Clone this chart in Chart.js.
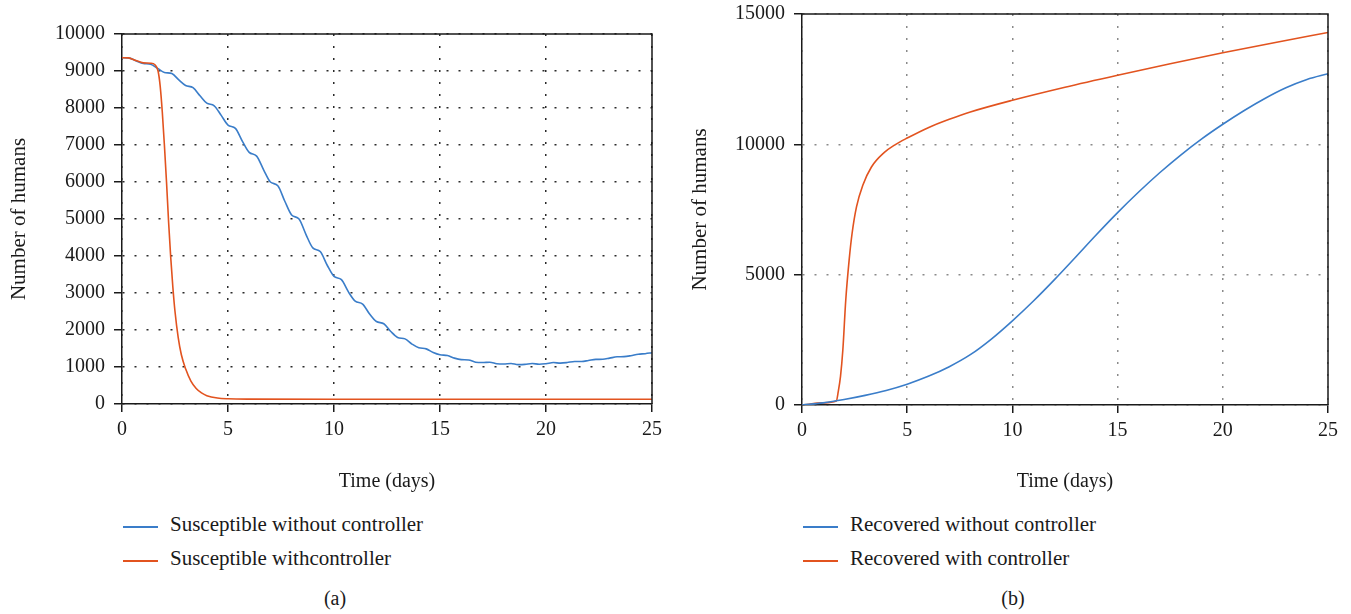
<!DOCTYPE html>
<html>
<head>
<meta charset="utf-8">
<title>Susceptible and recovered humans</title>
<script src="https://cdn.jsdelivr.net/npm/chart.js@4.4.1/dist/chart.umd.min.js"></script>
<style>
  html, body { margin: 0; padding: 0; background: #fff; }
  body { width: 1351px; height: 614px; position: relative; overflow: hidden;
         font-family: "Liberation Serif", "Times New Roman", serif; color: #1a1a1a; }
  .panel { position: absolute; top: 0; height: 500px; }
  .legend { position: absolute; font-size: 21px; }
  .legend-row { height: 34px; line-height: 24px; white-space: nowrap; }
  .legend-line { display: inline-block; width: 35px; height: 1.5px; vertical-align: middle;
                 margin-right: 12px; position: relative; top: 1px; }
  .caption { position: absolute; top: 586px; width: 200px; text-align: center;
             font-size: 20px; line-height: 24px; }
</style>
</head>
<body>
  <div class="panel" style="left:0;width:680px"><canvas id="susChart"></canvas></div>
  <div class="panel" style="left:680px;width:671px"><canvas id="recChart"></canvas></div>
  <div class="legend" id="susLegend" style="left:123px;top:512px"></div>
  <div class="legend" id="recLegend" style="left:803px;top:512px"></div>
  <div class="caption" style="left:235px">(a)</div>
  <div class="caption" style="left:913px">(b)</div>

<script>
// (a) susceptible humans
const susTime = [0, 0.3, 0.65, 1, 1.35, 1.68, 2, 2.35, 2.68, 3, 3.35, 3.68, 4, 4.35, 4.68,
  5, 5.35, 5.68, 6, 6.35, 6.68, 7, 7.35, 7.68, 8, 8.35, 8.68, 9, 9.35, 9.68,
  10, 10.35, 10.68, 11, 11.35, 11.68, 12, 12.35, 12.68, 13, 13.35, 13.68, 14, 14.35, 14.68,
  15, 15.35, 15.68, 16, 16.35, 16.68, 17, 17.35, 17.68, 18, 18.35, 18.68, 19, 19.35, 19.68,
  20, 20.35, 20.68, 21, 21.35, 21.68, 22, 22.35, 22.68, 23, 23.35, 23.68, 24, 24.35, 24.68, 25];
const susNoControl = [9360, 9355, 9280, 9205, 9185, 9070, 8960, 8930, 8760, 8610, 8550, 8330, 8130, 8060, 7800,
  7540, 7450, 7100, 6800, 6700, 6330, 6000, 5900, 5480, 5110, 5000, 4580, 4220, 4120, 3750,
  3450, 3360, 3030, 2780, 2700, 2430, 2230, 2170, 1960, 1800, 1760, 1620, 1520, 1490, 1390,
  1330, 1310, 1240, 1200, 1190, 1130, 1120, 1130, 1090, 1080, 1095, 1065, 1070, 1095, 1075,
  1090, 1120, 1105, 1120, 1150, 1150, 1175, 1205, 1210, 1240, 1275, 1280, 1305, 1345, 1360, 1385];

const susCtrlTime = [0, 0.3, 0.65, 1, 1.35, 1.55, 1.7, 1.8, 1.9, 2, 2.1, 2.2, 2.3, 2.4, 2.5,
  2.65, 2.8, 3, 3.25, 3.5, 3.75, 4, 4.5, 5, 6, 10, 15, 20, 25];
const susControl = [9360, 9355, 9285, 9220, 9210, 9170, 9000, 8600, 7900, 7000, 6000, 4900, 3950, 3150, 2500,
  1800, 1330, 950, 620, 420, 300, 225, 160, 140, 132, 130, 130, 130, 130];

// (b) recovered humans
const recTime = [0, 1, 2, 3, 4, 5, 6, 7, 8, 9, 10, 11, 12, 13, 14, 15, 16, 17, 18, 19, 20, 21, 22, 23, 24, 25];
const recNoControl = [0, 80, 210, 370, 560, 800, 1100, 1470, 1930, 2530, 3230, 3990, 4810, 5670, 6540,
  7380, 8170, 8910, 9590, 10210, 10770, 11290, 11760, 12170, 12490, 12710];

const recCtrlTime = [0, 1, 1.63, 1.72, 1.83, 1.94, 2.08, 2.24, 2.38, 2.59, 2.89, 3.3, 3.9, 4.4, 5,
  6, 7, 8, 10, 12.5, 15, 17.5, 20, 22.5, 25];
const recControl = [0, 80, 150, 500, 1100, 2100, 4030, 5560, 6580, 7600, 8430, 9130, 9680, 9970, 10240,
  10640, 10960, 11240, 11690, 12190, 12650, 13090, 13510, 13910, 14290];

const xTicks = [0, 5, 10, 15, 20, 25];

const BLUE = '#3a7dc9';
const ORANGE = '#e2531f';
const INK = '#1a1a1a';

Chart.defaults.font.family = '"Liberation Serif", "Times New Roman", serif';
Chart.defaults.color = INK;

// top and right sides of the box
const framePlugin = {
  id: 'frame',
  afterDraw(chart) {
    const { ctx, chartArea: a } = chart;
    ctx.save();
    ctx.strokeStyle = INK;
    ctx.lineWidth = 1.5;
    ctx.beginPath();
    ctx.moveTo(a.left, a.top);
    ctx.lineTo(a.right, a.top);
    ctx.lineTo(a.right, a.bottom);
    ctx.stroke();
    ctx.restore();
  }
};

const page = {
  toPoints(xs, ys) {
    return xs.map((x, i) => ({ x, y: ys[i] }));
  },

  lineSet(label, xs, ys, color, order) {
    return {
      label,
      data: this.toPoints(xs, ys),
      borderColor: color,
      backgroundColor: color,
      borderWidth: 1.6,
      pointRadius: 0,
      cubicInterpolationMode: 'monotone',
      order
    };
  },

  makeChart(id, datasets, opts) {
    const ctx = document.getElementById(id).getContext('2d');
    return new Chart(ctx, {
      type: 'line',
      data: { datasets },
      options: {
        responsive: true,
        maintainAspectRatio: false,
        animation: false,
        layout: { padding: { top: opts.top, right: opts.right, bottom: 0, left: 0 } },
        plugins: { legend: { display: false }, tooltip: { enabled: false } },
        scales: {
          x: {
            type: 'linear',
            min: 0,
            max: 25,
            afterBuildTicks: s => { s.ticks = xTicks.map(v => ({ value: v })); },
            ticks: { font: { size: 20 }, padding: 6, color: INK, maxRotation: 0 },
            grid: { color: opts.gridColor, lineWidth: 1.5, tickLength: 8, tickColor: INK,
                    tickWidth: 1.5, tickBorderDash: [] },
            border: { color: INK, width: 1.5, dash: [2, 10] },
            title: { display: true, text: 'Time (days)', font: { size: 20 }, color: INK,
                     padding: { top: 0, bottom: 6.5 } },
            afterFit: s => {
              s.height = 500 - opts.bottom;
              s.paddingLeft = 0;
              s.paddingRight = 0;
            }
          },
          y: {
            type: 'linear',
            min: 0,
            max: opts.yMax,
            afterBuildTicks: s => { s.ticks = opts.yTicks.map(v => ({ value: v })); },
            ticks: { font: { size: 20 }, padding: 9, color: INK, callback: v => String(v) },
            grid: { color: opts.gridColor, lineWidth: 1.5, tickLength: 8, tickColor: INK,
                    tickWidth: 1.5, tickBorderDash: [] },
            border: { color: INK, width: 1.5, dash: [2, 10] },
            title: { display: true, text: 'Number of humans', font: { size: 21 }, color: INK,
                     padding: { top: opts.titlePad, bottom: 0 } },
            afterFit: s => {
              s.width = 122;
              // label overhang is covered by the layout padding
              s.paddingTop = 0;
              s.paddingBottom = 0;
            }
          }
        }
      },
      plugins: [framePlugin]
    });
  },

  renderLegend(chart, elId) {
    document.getElementById(elId).innerHTML = chart.data.datasets.map(d => `
      <div class="legend-row"><span class="legend-line" style="background:${d.borderColor}"></span>${d.label}</div>
    `).join('');
  },

  init() {
    const susYTicks = [0, 1000, 2000, 3000, 4000, 5000, 6000, 7000, 8000, 9000, 10000];
    const recYTicks = [0, 5000, 10000, 15000];

    const sus = this.makeChart('susChart', [
      this.lineSet('Susceptible without controller', susTime, susNoControl, BLUE, 1),
      this.lineSet('Susceptible withcontroller', susCtrlTime, susControl, ORANGE, 0)
    ], { top: 34, right: 28, bottom: 404, yMax: 10000, yTicks: susYTicks, gridColor: '#2a2a2a', titlePad: 6.4 });

    const rec = this.makeChart('recChart', [
      this.lineSet('Recovered without controller', recTime, recNoControl, BLUE, 0),
      this.lineSet('Recovered with controller', recCtrlTime, recControl, ORANGE, 1)
    ], { top: 14, right: 23, bottom: 405, yMax: 15000, yTicks: recYTicks, gridColor: '#8a8a8a', titlePad: 8 });

    this.renderLegend(sus, 'susLegend');
    this.renderLegend(rec, 'recLegend');
  }
};

page.init();
</script>
</body>
</html>
